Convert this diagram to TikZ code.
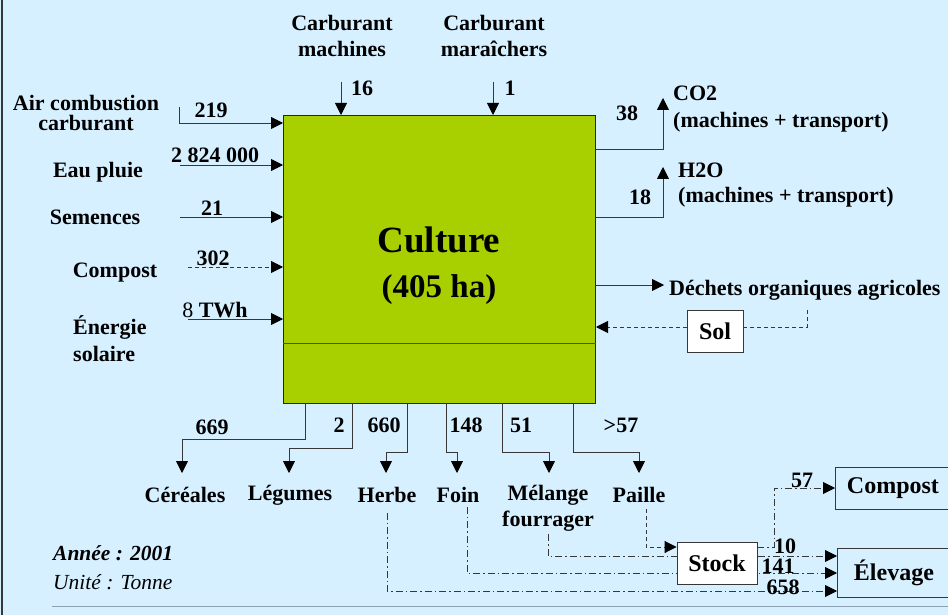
\documentclass[tikz,border=0pt]{standalone}
\usepackage{fontspec}
\setmainfont{Liberation Serif}
\usepackage{tikz}
\usetikzlibrary{arrows.meta}

\definecolor{fondbleu}{RGB}{214,240,255}
\definecolor{vertculture}{RGB}{168,208,0}
\definecolor{trait}{RGB}{55,55,55}
\definecolor{filet}{RGB}{140,160,180}

\begin{document}
\begin{tikzpicture}[x=1pt, y=-1pt,
		flux/.style = {draw=trait, line width=0.9pt, -{Triangle[length=12pt,width=12pt,color=black]}},
		pointille/.style = {flux, dash pattern=on 4pt off 3pt},
		mixte/.style = {flux, dash pattern=on 7pt off 3pt on 1.5pt off 3pt},
		lbl/.style = {font=\fontsize{22}{26}\selectfont\bfseries, align=center, inner sep=0pt},
		val/.style = {font=\fontsize{22}{22}\selectfont\bfseries, inner sep=0pt},
		boite/.style = {draw=trait, line width=0.9pt, inner sep=0pt, font=\fontsize{24}{24}\selectfont\bfseries}]
			\fill[fondbleu] (0,0) rectangle (948,615);
			\useasboundingbox (0,0) rectangle (948,615);
			\draw[trait, line width=1.5pt] (2,0) -- (2,615);
			\draw[filet, line width=1pt] (52,606) -- (948,606);
			
			% bloc central
			\node[draw=black!85, line width=1pt, fill=vertculture, anchor=north west, inner sep=0pt,
				minimum width=312pt, minimum height=288pt] (culture) at (283,115) {};
			\draw[black!70, line width=1pt] (culture.west |- 0,343) -- (culture.east |- 0,343);
			\node[font=\fontsize{37}{37}\selectfont\bfseries, inner sep=0pt] (titre) at (439,240) {Culture};
			\node[font=\fontsize{33}{33}\selectfont\bfseries, inner sep=0pt] (surface) at (439,290) {(405 ha)};
			
			% entrees
			\begin{scope}[every node/.style={lbl}]
				\node[font=\fontsize{22}{20}\selectfont\bfseries] (air) at (86,113) {Air combustion\\carburant};
				\node (eau) at (98,172) {Eau pluie};
				\node (semences) at (95,217) {Semences};
				\node (compost) at (115,273) {Compost};
				\node[align=left, anchor=west, font=\fontsize{22}{27}\selectfont\bfseries] (energie) at (73,339) {Énergie\\solaire};
				\node (machines) at (342,36) {Carburant\\machines};
				\node (maraichers) at (494,36) {Carburant\\maraîchers};
			\end{scope}
			
			\coordinate (depAir) at (179,107);
			\coordinate (depEau) at (180,165);
			\coordinate (depSem) at (180,217);
			\coordinate (depComp) at (188,267);
			\coordinate (depSol) at (188,319);
			\coordinate (depMach) at (341,82);
			\coordinate (depMara) at (493,82);
			
			\draw[flux] (depAir) |- (culture.west |- 0,123);
			\draw[flux] (depEau) -- (culture.west |- depEau);
			\draw[flux] (depSem) -- (culture.west |- depSem);
			\draw[pointille] (depComp) -- (culture.west |- depComp);
			\draw[flux] (depSol) -- (culture.west |- depSol);
			\draw[flux] (depMach) -- (culture.north -| depMach);
			\draw[flux] (depMara) -- (culture.north -| depMara);
			
			\begin{scope}[every node/.style={val}]
				\node (v219) at (211,110) {219};
				\node (v2824) at (215,155) {2 824 000};
				\node (v21) at (212,208) {21};
				\node (v302) at (213,258) {302};
				\node (v8) at (215,310) {\mdseries 8 \bfseries TWh};
				\node (v16) at (362,88) {16};
				\node (v1) at (510,88) {1};
			\end{scope}
			
			% sorties a droite
			\begin{scope}[every node/.style={lbl, anchor=west}]
				\node (co2) at (673,93) {CO2};
				\node (co2detail) at (673,122) {(machines + transport)};
				\node (h2o) at (678,170) {H2O};
				\node (h2odetail) at (678,197) {(machines + transport)};
				\node (dechets) at (669,290) {Déchets organiques agricoles};
			\end{scope}
			\coordinate (finCO2) at (663,98);
			\coordinate (finH2O) at (663,167);
			\coordinate (finDech) at (664,285);
			\draw[flux] (culture.east |- 0,149) -| (finCO2);
			\draw[flux] (culture.east |- 0,217) -| (finH2O);
			\draw[flux] (culture.east |- finDech) -- (finDech);
			\node[val] (v38) at (627,113) {38};
			\node[val] (v18) at (640,197) {18};
			
			\node[boite, fill=white, minimum width=56pt, minimum height=42pt] (sol) at (715,331) {Sol};
			\coordinate (retourSol) at (807,310);
			\draw[trait, line width=0.9pt, dash pattern=on 4pt off 3pt] (retourSol) |- (sol.east |- 0,327);
			\draw[pointille] (sol.west |- 0,327) -- (culture.east |- 0,327);
			
			% sorties en bas
			\begin{scope}[every node/.style={lbl}]
				\node (cereales) at (185,495) {Céréales};
				\node (legumes) at (290,495) {Légumes};
				\node (herbe) at (387,495) {Herbe};
				\node (foin) at (458,495) {Foin};
				\node (melange) at (548,508) {Mélange\\fourrager};
				\node (paille) at (639,495) {Paille};
			\end{scope}
			\draw[flux] (culture.south -| 305,0) -- ++(0,35) -| (182,473);
			\draw[flux] (culture.south -| 352,0) -- ++(0,44) -| (289,473);
			\draw[flux] (culture.south -| 407,0) -- ++(0,48) -| (386,473);
			\draw[flux] (culture.south -| 446,0) -- ++(0,48) -| (457,473);
			\draw[flux] (culture.south -| 502,0) -- ++(0,48) -| (549,473);
			\draw[flux] (culture.south -| 573,0) -- ++(0,48) -| (639,473);
			\begin{scope}[every node/.style={val}]
				\node (v669) at (212,427) {669};
				\node (v2) at (339,425) {2};
				\node (v660) at (384,425) {660};
				\node (v148) at (466,425) {148};
				\node (v51) at (521,425) {51};
				\node (v57b) at (621,425) {>57};
			\end{scope}
			
			% destinations
			\node[boite, fill=fondbleu, anchor=west, minimum width=115pt, minimum height=42pt] (compostB) at (835,488) {Compost};
			\node[boite, fill=fondbleu, anchor=west, minimum width=113pt, minimum height=49pt] (elevage) at (837,573) {Élevage};
			
			\draw[mixte] ([yshift=-10pt]herbe.south) |- (elevage.west |- 0,591);
			\draw[mixte] ([xshift=9pt,yshift=-4pt]foin.south) |- (elevage.west |- 0,573);
			\draw[mixte] ([yshift=-3pt]melange.south) |- (elevage.west |- 0,556);
			
			\node[boite, fill=white, minimum width=80pt, minimum height=42pt] (stock) at (717,563) {Stock};
			\draw[pointille] ([xshift=7pt,yshift=-6pt]paille.south) |- (stock.west |- 0,547);
			\draw[mixte] (stock.east |- 0,547) -- (774,547) |- (compostB.west);
			
			\begin{scope}[every node/.style={val}]
				\node (v57) at (802,480) {57};
				\node (v10) at (785,546) {10};
				\node (v141) at (778,566) {141};
				\node (v658) at (783,587) {658};
			\end{scope}
			
			\node[anchor=west, inner sep=0pt, font=\fontsize{21.5}{21.5}\selectfont\bfseries\itshape] (annee) at (53,553) {Année : 2001};
			\node[anchor=west, inner sep=0pt, font=\fontsize{21.5}{21.5}\selectfont\itshape] (unite) at (53,582) {Unité : Tonne};
		\end{tikzpicture}
\end{document}
